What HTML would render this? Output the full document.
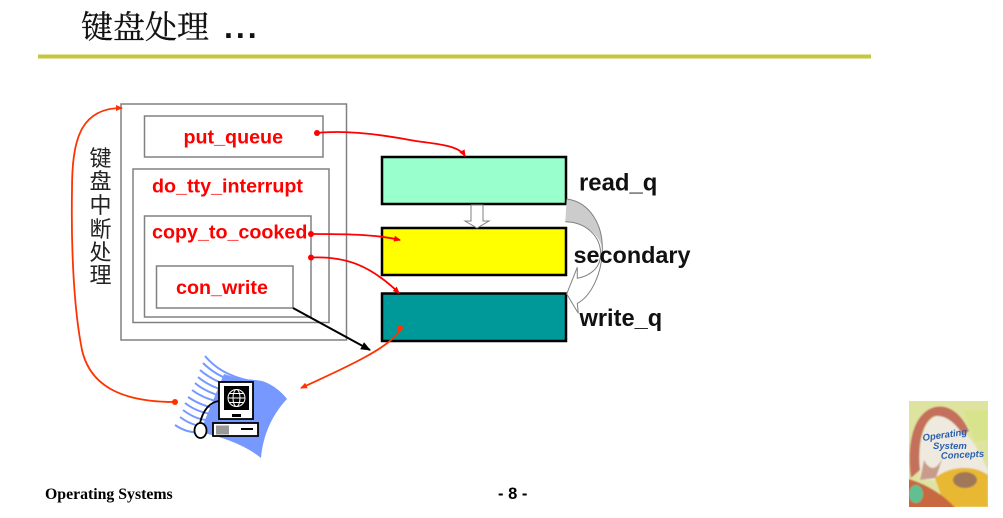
<!DOCTYPE html>
<html><head><meta charset="utf-8">
<style>
html,body{margin:0;padding:0;background:#fff}
svg{display:block}
text{font-family:"Liberation Sans","Noto Sans CJK SC",sans-serif}
</style></head><body>
<svg width="1003" height="518" viewBox="0 0 1003 518" xmlns="http://www.w3.org/2000/svg">
<defs>
<marker id="r" markerWidth="8" markerHeight="8" refX="6" refY="3" orient="auto" markerUnits="userSpaceOnUse"><path d="M0,0L7,3L0,6z" fill="#f00"/></marker>
<marker id="o" markerWidth="10" markerHeight="8" refX="6" refY="3" orient="auto" markerUnits="userSpaceOnUse"><path d="M0,0L7,3L0,6z" fill="#f30"/></marker>
<marker id="k" markerWidth="12" markerHeight="10" refX="9" refY="4" orient="auto" markerUnits="userSpaceOnUse"><path d="M0,0L10,4L0,8z" fill="#000"/></marker>
<filter id="b" x="-5%" y="-5%" width="110%" height="110%"><feGaussianBlur stdDeviation="0.9"/></filter>
<clipPath id="bk"><rect x="909" y="401" width="79" height="106"/></clipPath>
</defs>

<text x="81" y="38" font-size="32" fill="#111" stroke="#111" stroke-width="0.3" style="font-family:'Noto Serif CJK SC',serif">键盘处理</text>
<text x="224" y="38" font-size="32" font-weight="bold" fill="#111" letter-spacing="3" style="font-family:'Liberation Sans',sans-serif">...</text>
<rect x="38" y="54.500" width="833" height="4" fill="#c6c63f"/>

<g fill="none" stroke="#808080" stroke-width="1.500">
<rect x="121" y="104" width="225.500" height="236"/>
<rect x="144.500" y="116" width="178.500" height="41"/>
<rect x="133" y="169" width="196" height="153.500"/>
<rect x="144.500" y="216" width="166.500" height="101"/>
<rect x="156.500" y="266" width="136.500" height="42"/>
</g>

<g font-size="19.700" font-weight="bold" fill="#f00">
<text x="183.500" y="143.500">put_queue</text>
<text x="152" y="192.500">do_tty_interrupt</text>
<text x="152" y="238.500">copy_to_cooked</text>
<text x="176" y="294">con_write</text>
</g>

<g font-size="22" fill="#222" text-anchor="middle">
<text x="100.500" y="166">键</text>
<text x="100.500" y="189">盘</text>
<text x="100.500" y="213">中</text>
<text x="100.500" y="237">断</text>
<text x="100.500" y="260">处</text>
<text x="100.500" y="283">理</text>
</g>

<rect x="382" y="157" width="184" height="47" fill="#99ffcc" stroke="#000" stroke-width="2.500"/>
<rect x="382" y="228" width="184" height="47" fill="#ffff00" stroke="#000" stroke-width="2.500"/>
<rect x="382" y="293.500" width="184" height="47.500" fill="#009999" stroke="#000" stroke-width="2.500"/>

<path d="M471,205H483V221H489L477,228L465,221H471Z" fill="#fff" stroke="#808080" stroke-width="1"/>

<path d="M566.700,199C590,202 603,225 602.300,250C601,235 585,222 565.300,221.700Z" fill="#cccccc"/>
<path d="M566.700,199C590,202 603,225 602.300,250C602,275 590,297 577.300,303.300L578.300,313.300L566.700,294L577.300,267.300L577.300,278.300C590,276 601,268 600.700,253C600,235 585,222 565.300,221.700" fill="none" stroke="#808080" stroke-width="1"/>

<g font-weight="bold" fill="#111">
<text x="579" y="190.500" font-size="23.900">read_q</text>
<text x="573.500" y="263" font-size="23.400">secondary</text>
<text x="579.500" y="326" font-size="23.600">write_q</text>
</g>

<g fill="none" stroke="#f00" stroke-width="1.800">
<path d="M317,133C345,130 378,134 410,140C432,144 458,144 465,156" marker-end="url(#r)"/>
<path d="M311,234C340,234 375,234 400,240" marker-end="url(#r)"/>
<path d="M311,257.500C345,256 370,265 399,293" marker-end="url(#r)"/>
</g>
<g fill="#f00">
<circle cx="317" cy="133" r="3"/>
<circle cx="311" cy="234" r="3"/>
<circle cx="311" cy="257.500" r="3"/>
</g>

<path d="M293,308L370,350" stroke="#000" stroke-width="2" fill="none" marker-end="url(#k)"/>

<g fill="none" stroke="#f30" stroke-width="1.800">
<path d="M175,402C120,402 90,385 82,350C74,310 71,250 72,190C72,140 80,108 122,108" marker-end="url(#o)"/>
<path d="M400,328C396,345 345,368 301,388" marker-end="url(#o)"/>
</g>
<circle cx="175" cy="402" r="3" fill="#f30"/>
<circle cx="400" cy="328" r="3" fill="#f30"/>

<!-- computer clip art -->
<path d="M224,374C240,380 252,379 262,381C272,384 282,392 287,399C272,415 263,435 261,458C245,445 225,438 200,432Z" fill="#7799ff"/>
<g stroke="#7799ff" stroke-width="2" fill="none">
<path d="M205,356C215,368 228,376 250,381"/>
<path d="M203,363C212,372 224,379 240,383"/>
<path d="M200,370C209,378 220,383 232,387"/>
<path d="M198,377C206,384 216,388 228,392"/>
<path d="M195,383C203,390 213,394 224,397"/>
<path d="M192,390C200,396 210,400 220,402"/>
<path d="M188,397C197,403 207,407 216,408"/>
<path d="M185,403C194,410 204,413 212,414"/>
<path d="M183,410C191,416 200,420 208,420"/>
<path d="M180,417C188,423 196,426 204,426"/>
<path d="M175,425C184,431 190,432 200,433"/>
</g>
<rect x="219" y="382" width="34" height="37" fill="#fff" stroke="#000" stroke-width="1.800"/>
<rect x="224" y="386" width="25" height="24" fill="#000"/>
<circle cx="236.500" cy="398" r="8.500" fill="none" stroke="#fff" stroke-width="1"/>
<ellipse cx="236.500" cy="398" rx="3.500" ry="8.500" fill="none" stroke="#fff" stroke-width="1"/>
<path d="M228,398H245M229,393.500H244M229,402.500H244" stroke="#fff" stroke-width="1"/>
<rect x="232" y="414" width="9" height="3" fill="#000"/>
<rect x="213" y="423" width="45" height="13" fill="#fff" stroke="#000" stroke-width="1.800"/>
<rect x="216" y="425.500" width="13" height="9" fill="#999"/>
<rect x="241" y="428" width="12" height="2" fill="#000"/>
<ellipse cx="200.500" cy="430.500" rx="6" ry="7.500" fill="#fff" stroke="#000" stroke-width="1.800"/>
<path d="M200,423C203,410 210,402 219,401" fill="none" stroke="#000" stroke-width="1.800"/>

<!-- book -->
<g clip-path="url(#bk)">
<g filter="url(#b)">
<rect x="905" y="397" width="87" height="114" fill="#dfe3a0"/>
<path d="M920,470C918,440 925,418 938,416C950,415 960,425 975,445L988,470V480H920Z" fill="#eeeadf"/>
<path d="M963,410H988V440L975,442Z" fill="#d8e48c"/>
<path d="M911,478C906,440 915,412 935,407C950,404 962,415 969,431L963,435C955,422 945,415 935,416C924,420 917,440 920,470Z" fill="#c4705c"/>
<path d="M924,460C930,472 938,470 943,456L936,478L920,480Z" fill="#c89c88"/>
<path d="M935,478C950,465 975,465 988,475V507H945Z" fill="#e8b830"/>
<path d="M905,478C925,483 945,495 958,511H905Z" fill="#c86840"/>
<ellipse cx="916" cy="494" rx="7" ry="9" fill="#60c090"/>
<ellipse cx="965" cy="480" rx="12" ry="8" fill="#a07858"/>
</g>
<g font-size="9.500" font-style="italic" fill="#2a5fb0" font-weight="bold">
<text x="923" y="441" transform="rotate(-8 923 441)">Operating</text>
<text x="933" y="449">System</text>
<text x="941" y="459" transform="rotate(-3 941 459)">Concepts</text>
</g>
</g>

<text x="45" y="499" font-size="15.800" font-weight="bold" fill="#000" style="font-family:'Liberation Serif',serif">Operating Systems</text>
<text x="498" y="499" font-size="16.500" font-weight="bold" fill="#000">- 8 -</text>
</svg>
</body></html>
